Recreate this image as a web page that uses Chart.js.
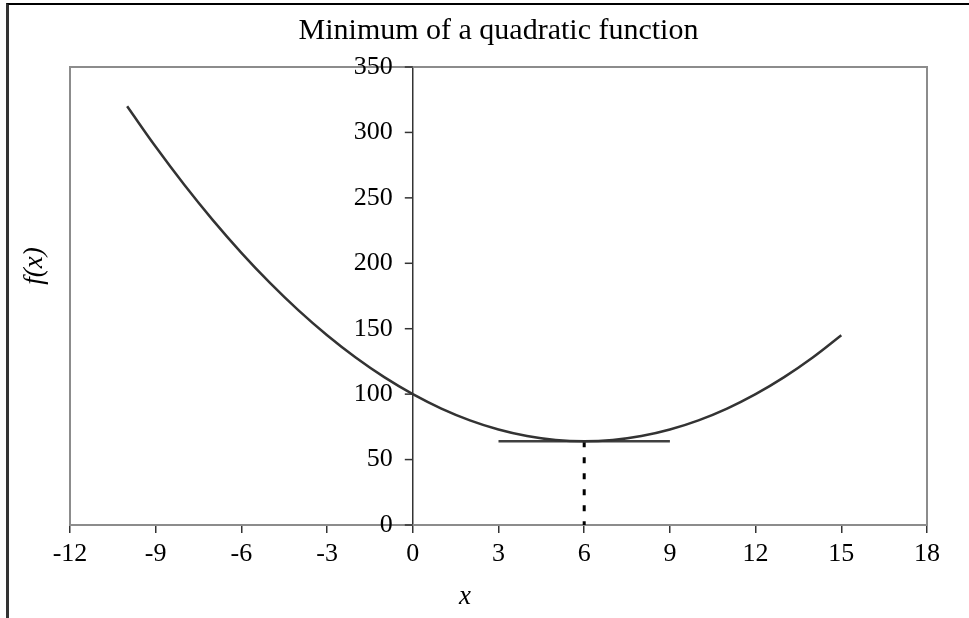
<!DOCTYPE html>
<html>
<head>
<meta charset="utf-8">
<script src="https://cdn.jsdelivr.net/npm/chart.js@4.4.1/dist/chart.umd.min.js"></script>
<style>
  html, body { margin: 0; padding: 0; background: #fff; }
  #frame { position: absolute; left: 6px; top: 3px; right: 0; bottom: 0;
           border-left: 3px solid #333; border-top: 2px solid #000; }
  #wrap { position: absolute; left: 0; top: 0; width: 969px; height: 618px; }
</style>
</head>
<body>
<div id="frame"></div>
<div id="wrap"><canvas id="chart" width="969" height="618"></canvas></div>
<script>
// f(x) sampled at whole numbers of x
const xValues = [-10, -9, -8, -7, -6, -5, -4, -3, -2, -1, 0, 1, 2, 3, 4, 5, 6, 7, 8, 9, 10, 11, 12, 13, 14, 15];
const fValues = [320, 289, 260, 233, 208, 185, 164, 145, 128, 113, 100, 89, 80, 73, 68, 65, 64, 65, 68, 73, 80, 89, 100, 113, 128, 145];

// horizontal tangent through the minimum
const tangentX = [3, 9];
const tangentY = [64, 64];

// drop line from the minimum to the x axis
const dropX = [6, 6];
const dropY = [64, 0];

// axis ticks
const xTicks = [-12, -9, -6, -3, 0, 3, 6, 9, 12, 15, 18];
const yTicks = [0, 50, 100, 150, 200, 250, 300, 350];

const SERIF = '"Liberation Serif", "Times New Roman", serif';
const TICK_FONT = { family: SERIF, size: 26 };

const toPoints = (xs, ys) => xs.map((x, i) => ({ x: x, y: ys[i] }));

// grey frame round the plot area, the y-axis ticks/labels at x = 0, and the axis titles
const decorPlugin = {
  id: 'decor',
  beforeDatasetsDraw(chart) {
    const { ctx, chartArea: a } = chart;
    ctx.save();
    ctx.strokeStyle = '#8c8c8c';
    ctx.lineWidth = 2;
    ctx.strokeRect(a.left, a.top, a.right - a.left, a.bottom - a.top);
    ctx.restore();
  },
  afterDraw(chart) {
    const { ctx, scales: { x, y } } = chart;
    const ax = x.getPixelForValue(0);
    ctx.save();
    // y-axis tick marks and labels, left of the crossing axis
    ctx.strokeStyle = '#333';
    ctx.lineWidth = 1.5;
    ctx.fillStyle = '#000';
    ctx.font = TICK_FONT.size + 'px ' + SERIF;
    ctx.textAlign = 'right';
    ctx.textBaseline = 'middle';
    yTicks.forEach(v => {
      const py = y.getPixelForValue(v);
      ctx.beginPath();
      ctx.moveTo(ax - 8, py);
      ctx.lineTo(ax, py);
      ctx.stroke();
      ctx.fillText(String(v), ax - 20, py);
    });
    // axis titles
    ctx.font = 'italic 27px ' + SERIF;
    ctx.textAlign = 'center';
    ctx.fillText('x', 465, 597);
    ctx.translate(35, 266);
    ctx.rotate(-Math.PI / 2);
    ctx.fillText('f(x)', 0, 0);
    ctx.restore();
  }
};

new Chart(document.getElementById('chart'), {
  type: 'scatter',
  data: {
    datasets: [
      {
        data: toPoints(xValues, fValues),
        showLine: true,
        borderColor: '#333333',
        borderWidth: 2.5,
        pointRadius: 0,
        tension: 0.4
      },
      {
        data: toPoints(tangentX, tangentY),
        showLine: true,
        borderColor: '#404040',
        borderWidth: 2.5,
        pointRadius: 0
      },
      {
        data: toPoints(dropX, dropY),
        showLine: true,
        borderColor: '#000000',
        borderWidth: 3,
        borderDash: [6, 10],
        pointRadius: 0
      }
    ]
  },
  options: {
    responsive: false,
    animation: false,
    layout: { padding: { left: 70, right: 42, top: 0, bottom: 0 } },
    plugins: {
      legend: { display: false },
      tooltip: { enabled: false },
      title: {
        display: true,
        text: 'Minimum of a quadratic function',
        color: '#000',
        font: { family: SERIF, size: 30, weight: 'normal', lineHeight: 1.2 },
        padding: { top: 13, bottom: 18 }
      }
    },
    scales: {
      x: {
        type: 'linear',
        position: 'bottom',
        min: -12,
        max: 18,
        afterBuildTicks: (scale) => { scale.ticks = xTicks.map(v => ({ value: v })); },
        afterFit: (scale) => { scale.height = 93; },
        grid: { drawOnChartArea: false, drawTicks: true, tickLength: 8, color: '#333', lineWidth: 1.5 },
        border: { color: '#333', width: 2 },
        ticks: { color: '#000', font: TICK_FONT, padding: 6, maxRotation: 0, autoSkip: false }
      },
      y: {
        type: 'linear',
        position: { x: 0 },
        min: 0,
        max: 350,
        afterBuildTicks: (scale) => { scale.ticks = yTicks.map(v => ({ value: v })); },
        grid: { drawOnChartArea: false, drawTicks: false },
        border: { color: '#333', width: 1.5 },
        ticks: { display: false }
      }
    }
  },
  plugins: [decorPlugin]
});
</script>
</body>
</html>
